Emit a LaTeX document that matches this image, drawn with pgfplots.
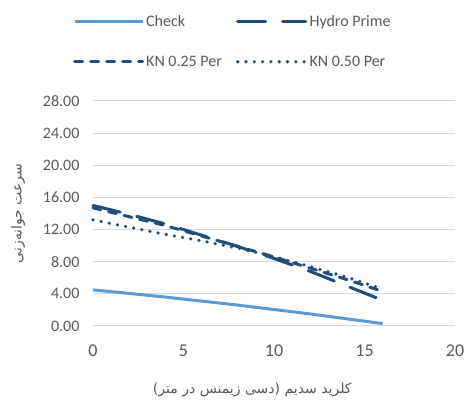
\documentclass[border=0pt]{standalone}
\usepackage{pgfplots}
\pgfplotsset{compat=1.18}
\usepackage{fontspec}
\setmainfont{Carlito}
\newfontfamily\arabicfont[Script=Arabic]{DejaVu Sans}
\TeXXeTstate=1
\definecolor{lightb}{HTML}{5B9BD5}
\definecolor{darkb}{HTML}{1F4E79}
\definecolor{gridc}{HTML}{D9D9D9}
\definecolor{txt}{HTML}{595959}
\begin{document}
\begin{tikzpicture}
\useasboundingbox (0pt,0pt) rectangle (466pt,403pt);
\begin{axis}[
  at={(93pt,77pt)}, anchor=south west,
  scale only axis, width=362pt, height=225pt,
  xmin=0, xmax=20, ymin=0, ymax=28,
  xtick={0,5,10,15,20}, ytick={0,4,...,28},
  axis line style={draw=none},
  major tick length=0pt,
  ymajorgrids, grid style={gridc, line width=1pt},
  /pgf/number format/assume math mode=true,
  yticklabel style={/pgf/number format/.cd, fixed, fixed zerofill, precision=2, /tikz/.cd, font=\fontsize{16}{16}\selectfont, text=txt, xshift=-10pt},
  xticklabel style={font=\fontsize{18}{18}\selectfont, text=txt, yshift=-15pt},
  legend columns=2,
  legend style={draw=none, fill=none, at={(rel axis cs:-0.0635,1.40)}, anchor=north west,
    font=\fontsize{16}{16}\selectfont, text=txt, row sep=24pt,
    /tikz/every even column/.append style={column sep=12pt}},
  legend cell align=left,
  legend image code/.code={\draw[#1] (0pt,0pt) -- (68pt,0pt);},
  clip=false,
]
\addplot[lightb, line width=3pt] coordinates {(0,4.5) (2,4.05) (4,3.6) (6,3.1) (8,2.6) (10,2.05) (12,1.5) (14,0.9) (16,0.3)};
\addlegendentry{Check}
\addplot[darkb, line width=3pt, line cap=round, dash pattern=on 28pt off 17pt] coordinates {(0,15.0) (2,13.9) (4,12.7) (6,11.3) (8,9.9) (10,8.4) (12,6.8) (14,5.0) (16,3.2)};
\addlegendentry{Hydro Prime}
\addplot[darkb, line width=3pt, line cap=round, dash pattern=on 8pt off 8pt] coordinates {(0,14.7) (2,13.6) (4,12.5) (6,11.2) (8,9.9) (10,8.6) (12,7.2) (14,5.8) (16,4.3)};
\addlegendentry{KN 0.25 Per}
\addplot[darkb, line width=3.6pt, line cap=round, dash pattern=on 0pt off 8.3pt] coordinates {(0,13.2) (2,12.3) (4,11.4) (6,10.6) (8,9.7) (10,8.6) (12,7.4) (14,6.1) (16,4.6)};
\addlegendentry{KN 0.50 Per}
\node[rotate=90, text=txt, font=\arabicfont\fontsize{14}{14}\selectfont] at (rel axis cs:-0.207,0.5) {\beginR سرعت جوانه‌زنی\endR};
\node[text=txt, font=\arabicfont\fontsize{14}{14}\selectfont] at (rel axis cs:0.44,-0.285) {\beginR کلرید سدیم (دسی زیمنس در متر)\endR};
\end{axis}
\end{tikzpicture}
\end{document}
